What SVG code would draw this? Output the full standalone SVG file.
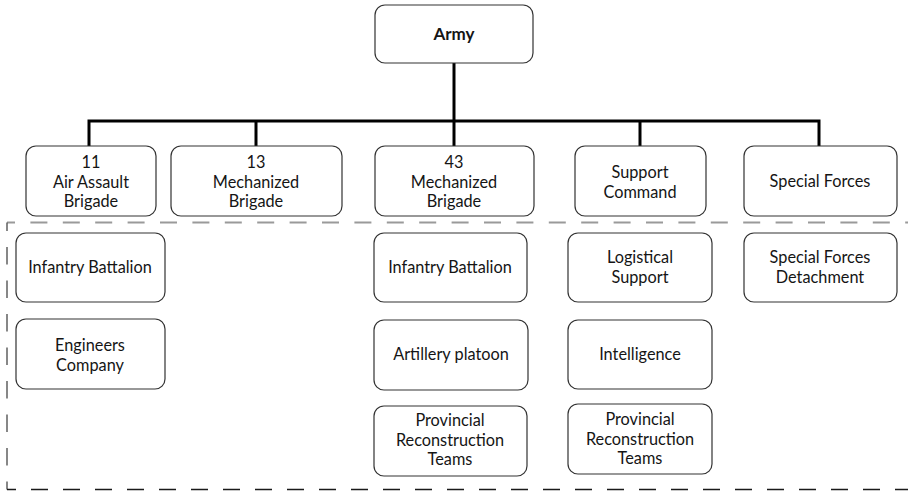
<svg xmlns="http://www.w3.org/2000/svg" width="908" height="492" viewBox="0 0 908 492">
  <style>
    .box { fill: #ffffff; stroke: #333333; stroke-width: 1.2; }
    .lbl { font-family: Lato, "Open Sans", "Liberation Sans", sans-serif; font-size: 16.3px; fill: #151515; text-anchor: middle; }
    .bold { font-weight: bold; font-size: 17px; }
    .link { fill: none; stroke: #000000; stroke-width: 3; }
  </style>
  <rect width="908" height="492" fill="#ffffff"/>

  <!-- dashed frame around the sub-units -->
  <g id="frame" fill="none">
    <path d="M7 222.5 H908" stroke="#9a9a9a" stroke-width="2" stroke-dasharray="17 15.4" stroke-dashoffset="9"/>
    <path d="M7 489.5 V222.5" stroke="#555555" stroke-width="1.4" stroke-dasharray="17.5 16" stroke-dashoffset="9.5"/>
    <path d="M7 489.5 H908" stroke="#1a1a1a" stroke-width="1.6" stroke-dasharray="17 15" stroke-dashoffset="8"/>
  </g>

  <!-- connectors -->
  <g id="connectors">
    <path class="link" d="M454 63 V146"/>
    <path class="link" d="M89 146 V121 H819 V146"/>
    <path class="link" d="M256 121 V146"/>
    <path class="link" d="M640 121 V146"/>
  </g>

  <g id="army">
    <rect class="box" x="375" y="5" width="158" height="58" rx="10"/>
    <text class="lbl bold" x="454" y="40">Army</text>
  </g>

  <g id="brigade11">
    <rect class="box" x="26" y="146" width="130" height="70" rx="10"/>
    <text class="lbl" x="91" y="168">11</text>
    <text class="lbl" x="91" y="187.6">Air Assault</text>
    <text class="lbl" x="91" y="207.2">Brigade</text>
  </g>

  <g id="brigade13">
    <rect class="box" x="171" y="146" width="171" height="70" rx="10"/>
    <text class="lbl" x="256" y="168">13</text>
    <text class="lbl" x="256" y="187.6">Mechanized</text>
    <text class="lbl" x="256" y="207.2">Brigade</text>
  </g>

  <g id="brigade43">
    <rect class="box" x="375" y="146" width="159" height="70" rx="10"/>
    <text class="lbl" x="454" y="168">43</text>
    <text class="lbl" x="454" y="187.6">Mechanized</text>
    <text class="lbl" x="454" y="207.2">Brigade</text>
  </g>

  <g id="support-command">
    <rect class="box" x="575" y="146" width="131" height="70" rx="10"/>
    <text class="lbl" x="640" y="178">Support</text>
    <text class="lbl" x="640" y="197.6">Command</text>
  </g>

  <g id="special-forces">
    <rect class="box" x="744" y="146" width="153" height="70" rx="10"/>
    <text class="lbl" x="820" y="187">Special Forces</text>
  </g>

  <!-- column under 11 Air Assault Brigade -->
  <g id="infantry-battalion-11">
    <rect class="box" x="16" y="233" width="149" height="69" rx="10"/>
    <text class="lbl" x="90" y="273">Infantry Battalion</text>
  </g>
  <g id="engineers-company">
    <rect class="box" x="16" y="319" width="149" height="70" rx="10"/>
    <text class="lbl" x="90" y="351">Engineers</text>
    <text class="lbl" x="90" y="370.6">Company</text>
  </g>

  <!-- column under 43 Mechanized Brigade -->
  <g id="infantry-battalion-43">
    <rect class="box" x="374" y="233" width="153" height="69" rx="10"/>
    <text class="lbl" x="450" y="273">Infantry Battalion</text>
  </g>
  <g id="artillery-platoon">
    <rect class="box" x="374" y="320" width="154" height="70" rx="10"/>
    <text class="lbl" x="451" y="360">Artillery platoon</text>
  </g>
  <g id="prt-43">
    <rect class="box" x="374" y="406" width="153" height="70" rx="10"/>
    <text class="lbl" x="450" y="426">Provincial</text>
    <text class="lbl" x="450" y="445.6">Reconstruction</text>
    <text class="lbl" x="450" y="465.2">Teams</text>
  </g>

  <!-- column under Support Command -->
  <g id="logistical-support">
    <rect class="box" x="568" y="233" width="144" height="69" rx="10"/>
    <text class="lbl" x="640" y="263">Logistical</text>
    <text class="lbl" x="640" y="282.6">Support</text>
  </g>
  <g id="intelligence">
    <rect class="box" x="568" y="320" width="144" height="69" rx="10"/>
    <text class="lbl" x="640" y="360">Intelligence</text>
  </g>
  <g id="prt-support">
    <rect class="box" x="568" y="404" width="144" height="70" rx="10"/>
    <text class="lbl" x="640" y="425">Provincial</text>
    <text class="lbl" x="640" y="444.6">Reconstruction</text>
    <text class="lbl" x="640" y="464.2">Teams</text>
  </g>

  <!-- column under Special Forces -->
  <g id="sf-detachment">
    <rect class="box" x="744" y="233" width="153" height="69" rx="10"/>
    <text class="lbl" x="820" y="263">Special Forces</text>
    <text class="lbl" x="820" y="282.6">Detachment</text>
  </g>
</svg>
